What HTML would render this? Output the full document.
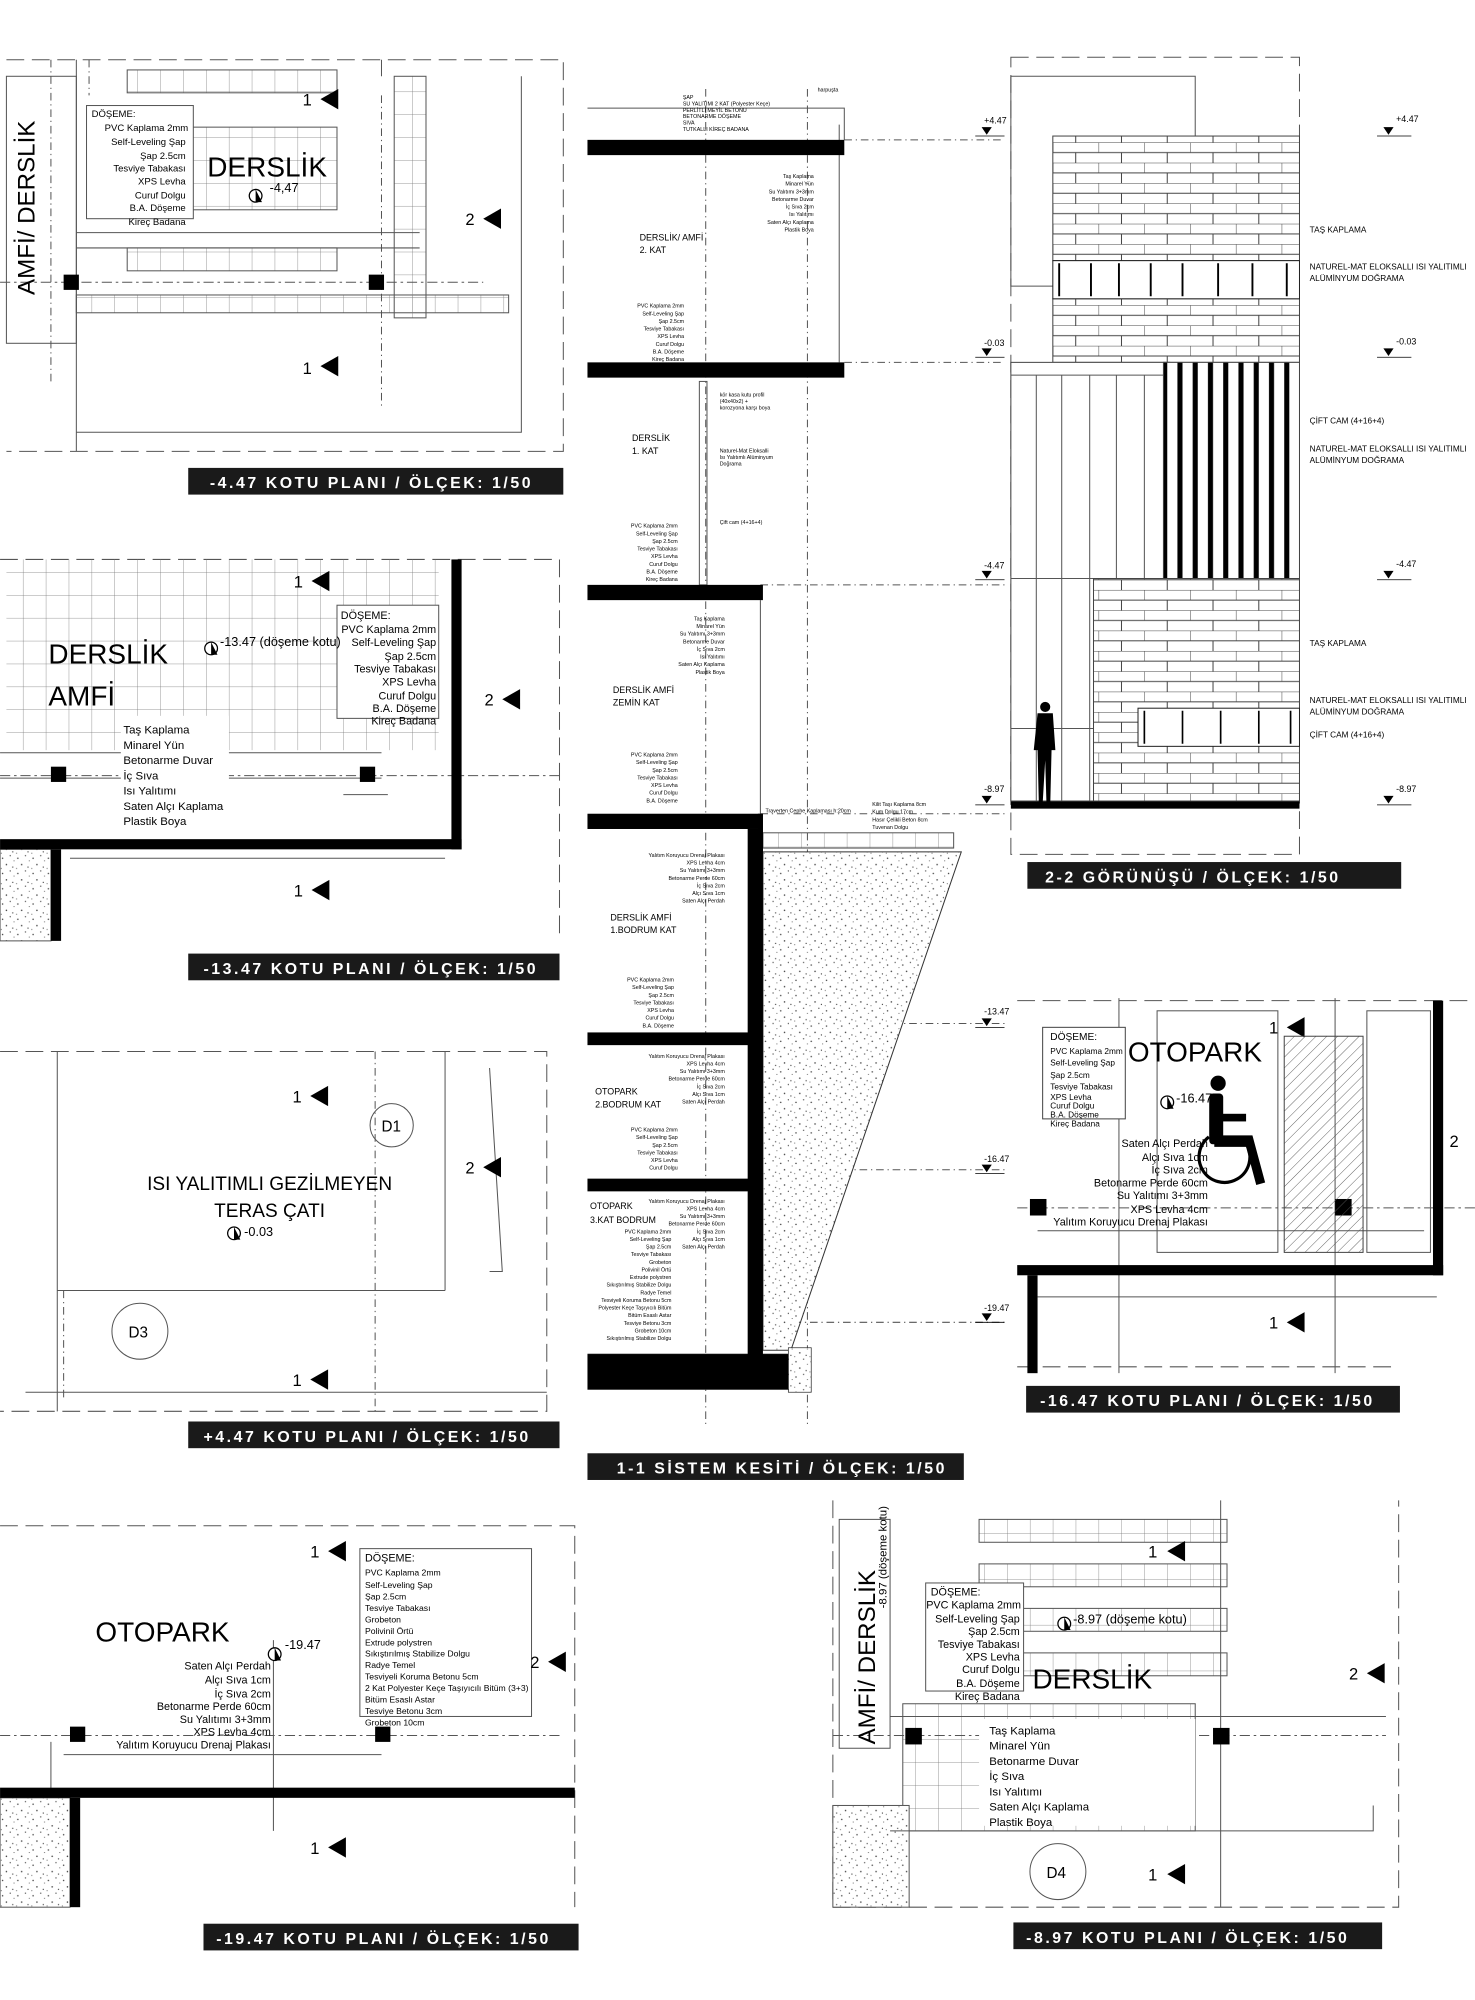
<!DOCTYPE html>
<html><head><meta charset="utf-8"><style>
html,body{margin:0;padding:0;background:#fff}
svg{display:block}
text{font-family:"Liberation Sans",sans-serif;fill:#000}
.bar text{fill:#fff;font-weight:bold;letter-spacing:2px}
.s{font-size:4.2px}
.m{font-size:8.5px}
</style></head><body>
<svg width="1475" height="2000" viewBox="0 0 1160 1573" xmlns="http://www.w3.org/2000/svg">
<defs>
<pattern id="brick" width="36" height="16" patternUnits="userSpaceOnUse">
<rect width="36" height="16" fill="#fff"/>
<path d="M0 0H36M0 8H36M0 0V8M18 8V16" stroke="#444" stroke-width="0.8" fill="none"/>
</pattern>
<pattern id="tile" width="18" height="18" patternUnits="userSpaceOnUse">
<path d="M0 0H18M0 0V18" stroke="#777" stroke-width="0.6" fill="none"/>
</pattern>
<pattern id="dots" width="12" height="12" patternUnits="userSpaceOnUse">
<rect width="12" height="12" fill="#fff"/>
<circle cx="2" cy="3" r="0.6" fill="#444"/><circle cx="8" cy="1" r="0.5" fill="#444"/><circle cx="5" cy="8" r="0.6" fill="#444"/><circle cx="10" cy="10" r="0.5" fill="#444"/><circle cx="11" cy="5" r="0.4" fill="#444"/><circle cx="1" cy="11" r="0.4" fill="#444"/>
</pattern>
<pattern id="hatch" width="6" height="6" patternUnits="userSpaceOnUse" patternTransform="rotate(45)">
<line x1="0" y1="0" x2="0" y2="6" stroke="#555" stroke-width="0.7"/>
</pattern>
<pattern id="vstripe" width="12" height="10" patternUnits="userSpaceOnUse">
<rect width="12" height="10" fill="#fff"/><rect x="2" width="4" height="10" fill="#000"/>
</pattern>
</defs>

<g fill="none" stroke="#555" stroke-width="0.8">
<!-- P1 -->
<path d="M5 47H443V355H5" stroke-dasharray="14 6"/>
<rect x="5" y="60" width="55" height="210"/>
<path d="M60 47V355M410 60V340H60M300 47V60"/>
<path d="M70 47V75M300 75V320M40 47V300" stroke-dasharray="6 3 1 3"/>
<rect x="100" y="100" width="165" height="65" fill="url(#tile)"/>
<rect x="100" y="195" width="165" height="18" fill="url(#tile)"/>
<rect x="60" y="232" width="340" height="14" fill="url(#tile)"/>
<rect x="100" y="55" width="165" height="18" fill="url(#tile)"/>
<rect x="310" y="60" width="25" height="190" fill="url(#tile)"/>
<rect x="68" y="83" width="84" height="89" fill="#fff"/>
<path d="M0 222H380" stroke-dasharray="8 3 2 3"/>
<path d="M60 183H330M60 195H330"/>
<!-- P2 -->
<path d="M0 440H440V740" stroke-dasharray="14 6"/>
<rect x="5" y="440" width="340" height="150" fill="url(#tile)" stroke="none"/>
<path d="M0 610H440" stroke-dasharray="8 3 2 3"/>
<path d="M0 612H300M0 592H300M270 625H305M55 675H350" />
<rect x="265" y="476" width="80" height="89" fill="#fff"/>
<rect x="95" y="563" width="85" height="76" fill="#fff" stroke="none"/>
<rect x="0" y="668" width="40" height="72" fill="url(#dots)"/>
<!-- P3 -->
<path d="M0 827H430V1110H0" stroke-dasharray="14 6"/>
<path d="M45 827V1110M350 827V1015M45 1015H350M385 840L395 1000H385M20 1095H430"/>
<path d="M295 827V1110M50 1015V1100" stroke-dasharray="6 3 1 3"/>
<circle cx="308" cy="885" r="17"/><circle cx="110" cy="1047" r="22"/>
<!-- P4 -->
<path d="M0 1200H452V1500" stroke-dasharray="14 6"/>
<path d="M0 1365H440" stroke-dasharray="8 3 2 3"/>
<path d="M40 1370V1500M50 1380H300M215 1290V1440"/>
<rect x="283" y="1218" width="135" height="132" fill="#fff"/>
<rect x="0" y="1414" width="55" height="86" fill="url(#dots)"/>
<!-- section -->
<path d="M555 70V1120M635 70V1120" stroke-dasharray="6 3 1 3"/>
<path d="M660 98V285M598 472V640M462 1065H620M462 85H664V110" />
<path d="M664 285H790M664 110H790M598 460H790M598 640H790M598 805H790M598 920H790M598 1040H790" stroke-dasharray="6 3 1 3"/>
<rect x="550" y="300" width="6" height="160"/>
<rect x="600" y="655" width="150" height="12" fill="url(#tile)"/>
<!-- elevation -->
<path d="M795 45H1022V672H795Z" stroke-dasharray="14 6"/>
<path d="M795 60H940V107M795 60V225H828"/>
<!-- P5 -->
<path d="M800 787H1160M800 1075H1100" stroke-dasharray="14 6"/>
<rect x="910" y="795" width="95" height="190"/>
<rect x="1075" y="795" width="50" height="190"/>
<path d="M800 950H1160" stroke-dasharray="8 3 2 3"/>
<path d="M816 968H1120M816 1020H1130M1050 785V1080M880 785V1080" />
<!-- P6 -->
<path d="M655 1180V1500H1100V1180" stroke-dasharray="14 6"/>
<rect x="660" y="1195" width="40" height="180"/>
<rect x="770" y="1195" width="195" height="18" fill="url(#tile)"/>
<rect x="770" y="1230" width="195" height="18" fill="url(#tile)"/>
<rect x="770" y="1265" width="195" height="18" fill="url(#tile)"/>
<rect x="770" y="1300" width="195" height="18" fill="url(#tile)"/>
<rect x="710" y="1340" width="230" height="100" fill="url(#tile)"/>
<rect x="655" y="1420" width="60" height="80" fill="url(#dots)"/>
<path d="M655 1365H1090" stroke-dasharray="8 3 2 3"/>
<path d="M700 1350H1090M700 1440H1080V1420M960 1180V1500"/>
<rect x="728" y="1245" width="77" height="85" fill="#fff"/>
<rect x="770" y="1352" width="170" height="84" fill="#fff" stroke="none"/>
<circle cx="832" cy="1472" r="22" fill="#fff"/>
</g>

<!-- earth wedge -->
<polygon points="600,670 756,670 622,1062 600,1062" fill="url(#dots)" stroke="#333" stroke-width="0.8"/>
<rect x="620" y="1060" width="18" height="35" fill="url(#dots)" stroke="#333" stroke-width="0.6"/>

<!-- black elements -->
<g fill="#000">
<rect x="50" y="216" width="12" height="12"/><rect x="290" y="216" width="12" height="12"/>
<rect x="355" y="440" width="8" height="228"/><rect x="0" y="660" width="363" height="8"/><rect x="40" y="668" width="8" height="72"/>
<rect x="40" y="603" width="12" height="12"/><rect x="283" y="603" width="12" height="12"/>
<rect x="0" y="1406" width="452" height="8"/><rect x="55" y="1414" width="8" height="86"/>
<rect x="55" y="1358" width="12" height="12"/><rect x="295" y="1358" width="12" height="12"/>
<rect x="462" y="110" width="202" height="12"/>
<rect x="462" y="285" width="202" height="12"/>
<rect x="462" y="460" width="138" height="12"/>
<rect x="462" y="640" width="138" height="12"/>
<rect x="462" y="812" width="128" height="10"/>
<rect x="462" y="927" width="128" height="10"/>
<rect x="462" y="1065" width="158" height="28"/>
<rect x="588" y="652" width="12" height="440"/>
<rect x="596" y="640" width="4" height="30"/>
<rect x="795" y="630" width="227" height="6"/>
<rect x="800" y="995" width="335" height="8"/><rect x="1127" y="787" width="8" height="216"/><rect x="808" y="1003" width="8" height="77"/>
<rect x="810" y="943" width="13" height="13"/><rect x="1050" y="943" width="13" height="13"/>
<rect x="712" y="1359" width="13" height="13"/><rect x="954" y="1359" width="13" height="13"/>
</g>

<!-- section markers -->
<g fill="#000">
<polygon points="252,78 266,70 266,86"/><text x="238" y="83" font-size="13">1</text>
<polygon points="252,288 266,280 266,296"/><text x="238" y="294" font-size="13">1</text>
<polygon points="380,172 394,164 394,180"/><text x="366" y="177" font-size="13">2</text>
<polygon points="245,457 259,449 259,465"/><text x="231" y="462" font-size="13">1</text>
<polygon points="395,550 409,542 409,558"/><text x="381" y="555" font-size="13">2</text>
<polygon points="245,700 259,692 259,708"/><text x="231" y="705" font-size="13">1</text>
<polygon points="244,862 258,854 258,870"/><text x="230" y="867" font-size="13">1</text>
<polygon points="380,918 394,910 394,926"/><text x="366" y="923" font-size="13">2</text>
<polygon points="244,1085 258,1077 258,1093"/><text x="230" y="1090" font-size="13">1</text>
<polygon points="258,1220 272,1212 272,1228"/><text x="244" y="1225" font-size="13">1</text>
<polygon points="431,1307 445,1299 445,1315"/><text x="417" y="1312" font-size="13">2</text>
<polygon points="258,1453 272,1445 272,1461"/><text x="244" y="1458" font-size="13">1</text>
<polygon points="1012,808 1026,800 1026,816"/><text x="998" y="813" font-size="13">1</text>
<text x="1140" y="902" font-size="13">2</text>
<polygon points="1012,1040 1026,1032 1026,1048"/><text x="998" y="1045" font-size="13">1</text>
<polygon points="918,1220 932,1212 932,1228"/><text x="903" y="1225" font-size="13">1</text>
<polygon points="1075,1316 1089,1308 1089,1324"/><text x="1061" y="1321" font-size="13">2</text>
<polygon points="918,1474 932,1466 932,1482"/><text x="903" y="1479" font-size="13">1</text>
</g>

<!-- P1 texts -->
<text transform="translate(27,232) rotate(-90)" font-size="19">AMFİ/ DERSLİK</text>
<g font-size="7.5" text-anchor="end"><text x="72" y="92" text-anchor="start">DÖŞEME:</text>
<text x="148" y="103">PVC Kaplama 2mm</text><text x="146" y="114">Self-Leveling Şap</text><text x="146" y="125">Şap 2.5cm</text><text x="146" y="135">Tesviye Tabakası</text><text x="146" y="145">XPS Levha</text><text x="146" y="156">Curuf Dolgu</text><text x="146" y="166">B.A. Döşeme</text><text x="146" y="177">Kireç Badana</text></g>
<text x="163" y="139" font-size="22">DERSLİK</text>
<circle cx="201" cy="154" r="5" fill="#fff" stroke="#000"/><path d="M201 149v10h5z" fill="#000"/>
<text x="212" y="151" font-size="10">-4,47</text>

<!-- P2 texts -->
<text x="38" y="522" font-size="22">DERSLİK</text><text x="38" y="555" font-size="22">AMFİ</text>
<circle cx="166" cy="510" r="5" fill="#fff" stroke="#000"/><path d="M166 505v10h5z" fill="#000"/>
<text x="173" y="508" font-size="10">-13.47 (döşeme kotu)</text>
<g font-size="8.5" text-anchor="end"><text x="268" y="487" text-anchor="start">DÖŞEME:</text>
<text x="343" y="498">PVC Kaplama 2mm</text><text x="343" y="508">Self-Leveling Şap</text><text x="343" y="519">Şap 2.5cm</text><text x="343" y="529">Tesviye Tabakası</text><text x="343" y="539">XPS Levha</text><text x="343" y="550">Curuf Dolgu</text><text x="343" y="560">B.A. Döşeme</text><text x="343" y="570">Kireç Badana</text></g>
<g font-size="9"><text x="97" y="577">Taş Kaplama</text><text x="97" y="589">Minarel Yün</text><text x="97" y="601">Betonarme Duvar</text><text x="97" y="613">İç Sıva</text><text x="97" y="625">Isı Yalıtımı</text><text x="97" y="637">Saten Alçı Kaplama</text><text x="97" y="649">Plastik Boya</text></g>

<!-- P3 texts -->
<text x="212" y="936" font-size="15" text-anchor="middle">ISI YALITIMLI GEZİLMEYEN</text>
<text x="212" y="957" font-size="15" text-anchor="middle">TERAS ÇATI</text>
<circle cx="184" cy="970" r="5" fill="#fff" stroke="#000"/><path d="M184 965v10h5z" fill="#000"/>
<text x="192" y="972" font-size="10">-0.03</text>
<text x="300" y="890" font-size="12">D1</text><text x="101" y="1052" font-size="12">D3</text>

<!-- P4 texts -->
<text x="75" y="1291" font-size="22">OTOPARK</text>
<circle cx="216" cy="1301" r="5" fill="#fff" stroke="#000"/><path d="M216 1296v10h5z" fill="#000"/>
<text x="224" y="1297" font-size="10">-19.47</text>
<g font-size="8.5" text-anchor="end"><text x="213" y="1313">Saten Alçı Perdah</text><text x="213" y="1324">Alçı Sıva 1cm</text><text x="213" y="1335">İç Sıva 2cm</text><text x="213" y="1345">Betonarme Perde 60cm</text><text x="213" y="1355">Su Yalıtımı 3+3mm</text><text x="213" y="1365">XPS Levha 4cm</text><text x="213" y="1375">Yalıtım Koruyucu Drenaj Plakası</text></g>
<g font-size="6.8"><text x="287" y="1228" font-size="8.5">DÖŞEME:</text>
<text x="287" y="1239">PVC Kaplama 2mm</text><text x="287" y="1249">Self-Leveling Şap</text><text x="287" y="1258">Şap 2.5cm</text><text x="287" y="1267">Tesviye Tabakası</text><text x="287" y="1276">Grobeton</text><text x="287" y="1285">Polivinil Örtü</text><text x="287" y="1294">Extrude polystren</text><text x="287" y="1303">Sıkıştırılmış Stabilize Dolgu</text><text x="287" y="1312">Radye Temel</text><text x="287" y="1321">Tesviyeli Koruma Betonu 5cm</text><text x="287" y="1330">2 Kat Polyester Keçe Taşıyıcılı Bitüm (3+3)</text><text x="287" y="1339">Bitüm Esaslı Astar</text><text x="287" y="1348">Tesviye Betonu 3cm</text><text x="287" y="1357">Grobeton 10cm</text></g>

<!-- section texts -->
<g class="s"><text x="537" y="78">ŞAP</text><text x="537" y="83">SU YALITIMI 2 KAT (Polyester Keçe)</text><text x="537" y="88">PERLİTLİ MEYİL BETONU</text><text x="537" y="93">BETONARME DÖŞEME</text><text x="537" y="98">SIVA</text><text x="537" y="103">TUTKALLI KİREÇ BADANA</text>
<text x="643" y="72">harpuşta</text>
<g text-anchor="end"><text x="640" y="140">Taş Kaplama</text><text x="640" y="146">Minarel Yün</text><text x="640" y="152">Su Yalıtımı 3+3mm</text><text x="640" y="158">Betonarme Duvar</text><text x="640" y="164">İç Sıva 2cm</text><text x="640" y="170">Isı Yalıtımı</text><text x="640" y="176">Saten Alçı Kaplama</text><text x="640" y="182">Plastik Boya</text>
<text x="538" y="242">PVC Kaplama 2mm</text><text x="538" y="248">Self-Leveling Şap</text><text x="538" y="254">Şap 2.5cm</text><text x="538" y="260">Tesviye Tabakası</text><text x="538" y="266">XPS Levha</text><text x="538" y="272">Curuf Dolgu</text><text x="538" y="278">B.A. Döşeme</text><text x="538" y="284">Kireç Badana</text>
<text x="533" y="415">PVC Kaplama 2mm</text><text x="533" y="421">Self-Leveling Şap</text><text x="533" y="427">Şap 2.5cm</text><text x="533" y="433">Tesviye Tabakası</text><text x="533" y="439">XPS Levha</text><text x="533" y="445">Curuf Dolgu</text><text x="533" y="451">B.A. Döşeme</text><text x="533" y="457">Kireç Badana</text>
<text x="570" y="488">Taş Kaplama</text><text x="570" y="494">Minarel Yün</text><text x="570" y="500">Su Yalıtımı 3+3mm</text><text x="570" y="506">Betonarme Duvar</text><text x="570" y="512">İç Sıva 2cm</text><text x="570" y="518">Isı Yalıtımı</text><text x="570" y="524">Saten Alçı Kaplama</text><text x="570" y="530">Plastik Boya</text>
<text x="533" y="595">PVC Kaplama 2mm</text><text x="533" y="601">Self-Leveling Şap</text><text x="533" y="607">Şap 2.5cm</text><text x="533" y="613">Tesviye Tabakası</text><text x="533" y="619">XPS Levha</text><text x="533" y="625">Curuf Dolgu</text><text x="533" y="631">B.A. Döşeme</text>
<text x="570" y="674">Yalıtım Koruyucu Drenaj Plakası</text><text x="570" y="680">XPS Levha 4cm</text><text x="570" y="686">Su Yalıtımı 3+3mm</text><text x="570" y="692">Betonarme Perde 60cm</text><text x="570" y="698">İç Sıva 2cm</text><text x="570" y="704">Alçı Sıva 1cm</text><text x="570" y="710">Saten Alçı Perdah</text>
<text x="530" y="772">PVC Kaplama 2mm</text><text x="530" y="778">Self-Leveling Şap</text><text x="530" y="784">Şap 2.5cm</text><text x="530" y="790">Tesviye Tabakası</text><text x="530" y="796">XPS Levha</text><text x="530" y="802">Curuf Dolgu</text><text x="530" y="808">B.A. Döşeme</text>
<text x="570" y="832">Yalıtım Koruyucu Drenaj Plakası</text><text x="570" y="838">XPS Levha 4cm</text><text x="570" y="844">Su Yalıtımı 3+3mm</text><text x="570" y="850">Betonarme Perde 60cm</text><text x="570" y="856">İç Sıva 2cm</text><text x="570" y="862">Alçı Sıva 1cm</text><text x="570" y="868">Saten Alçı Perdah</text>
<text x="533" y="890">PVC Kaplama 2mm</text><text x="533" y="896">Self-Leveling Şap</text><text x="533" y="902">Şap 2.5cm</text><text x="533" y="908">Tesviye Tabakası</text><text x="533" y="914">XPS Levha</text><text x="533" y="920">Curuf Dolgu</text>
<text x="570" y="946">Yalıtım Koruyucu Drenaj Plakası</text><text x="570" y="952">XPS Levha 4cm</text><text x="570" y="958">Su Yalıtımı 3+3mm</text><text x="570" y="964">Betonarme Perde 60cm</text><text x="570" y="970">İç Sıva 2cm</text><text x="570" y="976">Alçı Sıva 1cm</text><text x="570" y="982">Saten Alçı Perdah</text>
<text x="528" y="970">PVC Kaplama 2mm</text><text x="528" y="976">Self-Leveling Şap</text><text x="528" y="982">Şap 2.5cm</text><text x="528" y="988">Tesviye Tabakası</text><text x="528" y="994">Grobeton</text><text x="528" y="1000">Polivinil Örtü</text><text x="528" y="1006">Extrude polystren</text><text x="528" y="1012">Sıkıştırılmış Stabilize Dolgu</text><text x="528" y="1018">Radye Temel</text><text x="528" y="1024">Tesviyeli Koruma Betonu 5cm</text><text x="528" y="1030">Polyester Keçe Taşıyıcılı Bitüm</text><text x="528" y="1036">Bitüm Esaslı Astar</text><text x="528" y="1042">Tesviye Betonu 3cm</text><text x="528" y="1048">Grobeton 10cm</text><text x="528" y="1054">Sıkıştırılmış Stabilize Dolgu</text></g>
<text x="566" y="312">kör kasa kutu profil</text><text x="566" y="317">(40x40x2) +</text><text x="566" y="322">korozyona karşı boya</text>
<text x="566" y="356">Naturel-Mat Eloksalli</text><text x="566" y="361">Isı Yalıtımlı Alüminyum</text><text x="566" y="366">Doğrama</text>
<text x="566" y="412">Çift cam (4+16+4)</text>
<text x="602" y="639">Traverten Cephe Kaplaması h:20cm</text>
<text x="686" y="634">Kilit Taşı Kaplama 8cm</text><text x="686" y="640">Kum Dolgu 17cm</text><text x="686" y="646">Hasır Çelikli Beton 8cm</text><text x="686" y="652">Tuvenan Dolgu</text></g>
<g font-size="7"><text x="503" y="189">DERSLİK/ AMFİ</text><text x="503" y="199">2. KAT</text>
<text x="497" y="347">DERSLİK</text><text x="497" y="357">1. KAT</text>
<text x="482" y="545">DERSLİK AMFİ</text><text x="482" y="555">ZEMİN KAT</text>
<text x="480" y="724">DERSLİK AMFİ</text><text x="480" y="734">1.BODRUM KAT</text>
<text x="468" y="861">OTOPARK</text><text x="468" y="871">2.BODRUM KAT</text>
<text x="464" y="951">OTOPARK</text><text x="464" y="962">3.KAT BODRUM</text></g>

<!-- level markers -->
<g font-size="7">
<g><polygon points="772,100 780,100 776,106" fill="#000"/><path d="M767 107H790" stroke="#000" stroke-width="0.6"/><text x="774" y="97">+4.47</text></g>
<g><polygon points="772,274 780,274 776,280" fill="#000"/><path d="M767 281H790" stroke="#000" stroke-width="0.6"/><text x="774" y="272">-0.03</text></g>
<g><polygon points="772,449 780,449 776,455" fill="#000"/><path d="M767 456H790" stroke="#000" stroke-width="0.6"/><text x="774" y="447">-4.47</text></g>
<g><polygon points="772,626 780,626 776,632" fill="#000"/><path d="M767 633H790" stroke="#000" stroke-width="0.6"/><text x="774" y="623">-8.97</text></g>
<g><polygon points="772,801 780,801 776,807" fill="#000"/><path d="M767 808H790" stroke="#000" stroke-width="0.6"/><text x="774" y="798">-13.47</text></g>
<g><polygon points="772,916 780,916 776,922" fill="#000"/><path d="M767 923H790" stroke="#000" stroke-width="0.6"/><text x="774" y="914">-16.47</text></g>
<g><polygon points="772,1033 780,1033 776,1039" fill="#000"/><path d="M767 1040H790" stroke="#000" stroke-width="0.6"/><text x="774" y="1031">-19.47</text></g>
<g><polygon points="1088,100 1096,100 1092,106" fill="#000"/><path d="M1083 107H1110" stroke="#000" stroke-width="0.6"/><text x="1098" y="96">+4.47</text></g>
<g><polygon points="1088,274 1096,274 1092,280" fill="#000"/><path d="M1083 281H1110" stroke="#000" stroke-width="0.6"/><text x="1098" y="271">-0.03</text></g>
<g><polygon points="1088,449 1096,449 1092,455" fill="#000"/><path d="M1083 456H1110" stroke="#000" stroke-width="0.6"/><text x="1098" y="446">-4.47</text></g>
<g><polygon points="1088,626 1096,626 1092,632" fill="#000"/><path d="M1083 633H1110" stroke="#000" stroke-width="0.6"/><text x="1098" y="623">-8.97</text></g>
</g>

<!-- elevation -->
<rect x="828" y="107" width="194" height="98" fill="url(#brick)" stroke="#444" stroke-width="0.8"/>
<rect x="828" y="235" width="194" height="50" fill="url(#brick)" stroke="#444" stroke-width="0.8"/>
<rect x="828" y="205" width="194" height="30" fill="#fff" stroke="#222" stroke-width="0.8"/>
<g stroke="#000" stroke-width="1.5"><path d="M833 207V233M858 207V233M880 207V233M905 207V233M930 207V233M958 207V233M985 207V233M1012 207V233"/></g>
<rect x="795" y="285" width="125" height="345" fill="#fff" stroke="#444" stroke-width="0.8"/>
<g stroke="#555" stroke-width="0.8"><path d="M815 295V630M835 295V630M857 295V630M878 295V630M900 295V630M795 295H920M795 455H920M795 573H860"/></g>
<rect x="915" y="285" width="107" height="170" fill="url(#vstripe)" stroke="#444" stroke-width="0.8"/>
<rect x="860" y="455" width="162" height="175" fill="url(#brick)" stroke="#444" stroke-width="0.8"/>
<rect x="895" y="557" width="127" height="30" fill="#fff" stroke="#222" stroke-width="0.8"/>
<g stroke="#000" stroke-width="1.3"><path d="M900 559V585M930 559V585M960 559V585M990 559V585M1015 559V585"/></g>
<g fill="#000"><circle cx="822" cy="556" r="4"/><path d="M816 561H828L830 590L827 590L826 632H823L822 598L820 632H817L816 590L813 590Z"/></g>
<g font-size="6.5">
<text x="1030" y="183">TAŞ KAPLAMA</text>
<text x="1030" y="212">NATUREL-MAT ELOKSALLI  ISI YALITIMLI</text><text x="1030" y="221">ALÜMİNYUM DOĞRAMA</text>
<text x="1030" y="333">ÇİFT CAM (4+16+4)</text>
<text x="1030" y="355">NATUREL-MAT ELOKSALLI  ISI YALITIMLI</text><text x="1030" y="364">ALÜMİNYUM DOĞRAMA</text>
<text x="1030" y="508">TAŞ KAPLAMA</text>
<text x="1030" y="553">NATUREL-MAT ELOKSALLI  ISI YALITIMLI</text><text x="1030" y="562">ALÜMİNYUM DOĞRAMA</text>
<text x="1030" y="580">ÇİFT CAM (4+16+4)</text></g>

<!-- P5 -->
<rect x="1010" y="815" width="62" height="170" fill="url(#hatch)" stroke="#444" stroke-width="0.8"/>
<rect x="820" y="808" width="65" height="72" fill="#fff" stroke="#444" stroke-width="0.8"/>
<g font-size="6.5"><text x="826" y="818" font-size="8">DÖŞEME:</text><text x="826" y="829">PVC Kaplama 2mm</text><text x="826" y="838">Self-Leveling Şap</text><text x="826" y="848">Şap 2.5cm</text><text x="826" y="857">Tesviye Tabakası</text><text x="826" y="865">XPS Levha</text><text x="826" y="872">Curuf Dolgu</text><text x="826" y="879">B.A. Döşeme</text><text x="826" y="886">Kireç Badana</text></g>
<text x="887" y="835" font-size="22">OTOPARK</text>
<circle cx="918" cy="867" r="5" fill="#fff" stroke="#000"/><path d="M918 862v10h5z" fill="#000"/>
<text x="925" y="867" font-size="10">-16.47</text>
<g fill="#000"><circle cx="958" cy="852" r="6"/><rect x="951" y="860" width="11" height="40" rx="3"/><rect x="955" y="876" width="25" height="6"/><polygon points="955,893 985,893 995,930 988,932 980,902 955,902"/></g>
<circle cx="963" cy="910" r="20" fill="none" stroke="#000" stroke-width="2.5" stroke-dasharray="60 30" transform="rotate(60 963 910)"/>
<g font-size="8.5" text-anchor="end"><text x="950" y="902">Saten Alçı Perdah</text><text x="950" y="913">Alçı Sıva 1cm</text><text x="950" y="923">İç Sıva 2cm</text><text x="950" y="933">Betonarme Perde 60cm</text><text x="950" y="943">Su Yalıtımı 3+3mm</text><text x="950" y="954">XPS Levha 4cm</text><text x="950" y="964">Yalıtım Koruyucu Drenaj Plakası</text></g>

<!-- P6 -->
<text transform="translate(688,1372) rotate(-90)" font-size="19">AMFİ/ DERSLİK</text>
<text transform="translate(697,1265) rotate(-90)" font-size="9">-8.97 (döşeme kotu)</text>
<g font-size="8.5" text-anchor="end"><text x="732" y="1255" text-anchor="start">DÖŞEME:</text><text x="803" y="1265">PVC Kaplama 2mm</text><text x="802" y="1276">Self-Leveling Şap</text><text x="802" y="1286">Şap 2.5cm</text><text x="802" y="1296">Tesviye Tabakası</text><text x="802" y="1306">XPS Levha</text><text x="802" y="1316">Curuf Dolgu</text><text x="802" y="1327">B.A. Döşeme</text><text x="802" y="1337">Kireç Badana</text></g>
<text x="812" y="1328" font-size="22">DERSLİK</text>
<circle cx="837" cy="1277" r="5" fill="#fff" stroke="#000"/><path d="M837 1272v10h5z" fill="#000"/>
<text x="844" y="1277" font-size="10">-8.97 (döşeme kotu)</text>
<g font-size="9"><text x="778" y="1364">Taş Kaplama</text><text x="778" y="1376">Minarel Yün</text><text x="778" y="1388">Betonarme Duvar</text><text x="778" y="1400">İç Sıva</text><text x="778" y="1412">Isı Yalıtımı</text><text x="778" y="1424">Saten Alçı Kaplama</text><text x="778" y="1436">Plastik Boya</text></g>
<text x="823" y="1477" font-size="12">D4</text>

<!-- title bars -->
<g class="bar" font-size="12.5">
<rect x="148" y="368" width="295" height="21" fill="#1a1a1a"/><text x="165" y="384">-4.47 KOTU PLANI  / ÖLÇEK: 1/50</text>
<rect x="148" y="750" width="292" height="21" fill="#1a1a1a"/><text x="160" y="766">-13.47 KOTU PLANI  / ÖLÇEK: 1/50</text>
<rect x="148" y="1118" width="292" height="21" fill="#1a1a1a"/><text x="160" y="1134">+4.47 KOTU PLANI  / ÖLÇEK: 1/50</text>
<rect x="462" y="1143" width="296" height="21" fill="#1a1a1a"/><text x="485" y="1159">1-1 SİSTEM KESİTİ / ÖLÇEK: 1/50</text>
<rect x="808" y="678" width="294" height="21" fill="#1a1a1a"/><text x="822" y="694">2-2 GÖRÜNÜŞÜ / ÖLÇEK: 1/50</text>
<rect x="807" y="1090" width="294" height="21" fill="#1a1a1a"/><text x="818" y="1106">-16.47 KOTU PLANI  / ÖLÇEK: 1/50</text>
<rect x="160" y="1513" width="295" height="21" fill="#1a1a1a"/><text x="170" y="1529">-19.47 KOTU PLANI  / ÖLÇEK: 1/50</text>
<rect x="797" y="1512" width="290" height="21" fill="#1a1a1a"/><text x="807" y="1528">-8.97 KOTU PLANI  / ÖLÇEK: 1/50</text>
</g>
</svg>
</body></html>
